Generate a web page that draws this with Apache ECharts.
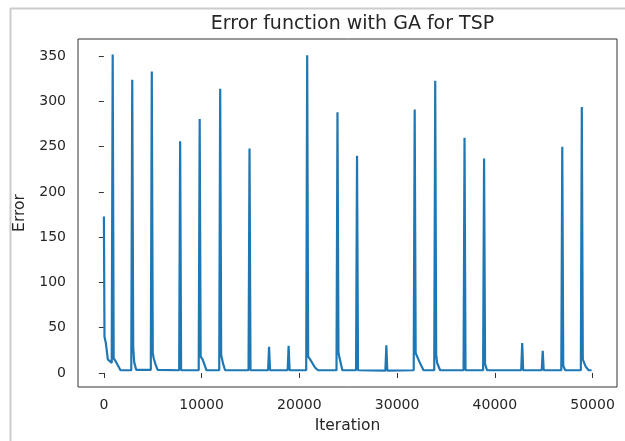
<!DOCTYPE html>
<html>
<head>
<meta charset="utf-8">
<script src="https://cdn.jsdelivr.net/npm/echarts@6/dist/echarts.min.js"></script>
<style>
html,body{margin:0;padding:0;background:#fff;}
#chart{width:625px;height:441px;}
</style>
</head>
<body>
<div id="chart"></div>
<script>
const titleText = "Error function with GA for TSP";
const xName = "Iteration";
const yName = "Error";
const xTicks = [0, 10000, 20000, 30000, 40000, 50000];
const yTicks = [0, 50, 100, 150, 200, 250, 300, 350];

const iterations = [
  0, 60, 200, 400, 600, 800, 900, 1000, 1200, 1700,
  2800, 2900, 3000, 3100, 3300,
  4800, 4900, 5000, 5100, 5300, 5500,
  7700, 7800, 7900,
  9700, 9800, 9900, 10100, 10500,
  11800, 11900, 12000, 12200, 12400,
  14800, 14900, 15000,
  16800, 16900, 17000,
  18800, 18900, 19000,
  20700, 20800, 20900, 21100, 21300, 21600, 21900,
  23800, 23900, 24000, 24100, 24400,
  25800, 25900, 26000,
  28800, 28900, 29000,
  31700, 31800, 31900, 32100, 32300, 32700,
  33800, 33900, 34000, 34100, 34400,
  36800, 36900, 37000,
  38800, 38900, 39000, 39200,
  42700, 42800, 42900,
  44800, 44900, 45000,
  46800, 46900, 47000, 47200,
  48800, 48900, 49000, 49300, 49600, 49900
];
const errors = [
  173, 40, 33, 15, 13, 11, 352, 16, 13, 3,
  3, 324, 28, 12, 3.5,
  3.5, 333, 22, 16, 9, 3.5,
  3, 256, 3,
  3, 280.5, 18, 15, 3,
  3, 314, 20, 10, 3,
  3, 248, 3,
  3, 29, 3,
  3, 30, 3,
  3, 351, 18, 15, 13, 6, 3,
  3, 288, 23, 17, 3,
  3, 240, 3,
  2.5, 30.5, 2.5,
  3, 291, 22, 17, 12, 3,
  3, 323, 20, 11, 3,
  3, 260, 3,
  3, 237, 10, 3,
  3, 33, 3,
  3, 24.6, 3,
  3, 250, 8, 3,
  3, 294, 15, 7, 3, 3
];

const FONT = "DejaVu Sans";
const TXT = "#262626";

const chart = echarts.init(document.getElementById('chart'), null, {renderer: 'canvas'});
chart.setOption({
  animation: false,
  backgroundColor: '#ffffff',
  title: {
    text: titleText,
    left: 347.5,
    top: 10,
    textAlign: 'center',
    textStyle: {fontFamily: FONT, fontSize: 19, fontWeight: 'normal', color: TXT}
  },
  graphic: [
    {type: 'line', shape: {x1: 10.5, y1: 8, x2: 10.5, y2: 441}, style: {stroke: '#cccccc', lineWidth: 2}},
    {type: 'line', shape: {x1: 10, y1: 8.5, x2: 625, y2: 8.5}, style: {stroke: '#cccccc', lineWidth: 2}}
  ],
  grid: {
    left: 78, right: 8, top: 39, bottom: 54,
    show: true, borderColor: '#333', borderWidth: 1, backgroundColor: 'transparent'
  },
  xAxis: {
    type: 'value',
    min: -2650, max: 52500,
    name: xName, nameLocation: 'middle', nameGap: 31,
    nameTextStyle: {fontFamily: FONT, fontSize: 15.5, color: TXT},
    axisLine: {show: false},
    axisTick: {show: true, length: 5, customValues: xTicks, lineStyle: {color: '#333', width: 1}},
    axisLabel: {customValues: xTicks, formatter: v => String(v), fontFamily: FONT, fontSize: 14, color: TXT, margin: 11},
    splitLine: {show: false}
  },
  yAxis: {
    type: 'value',
    min: -15.5, max: 369,
    name: yName, nameLocation: 'middle', nameGap: 50, nameRotate: 90,
    nameTextStyle: {fontFamily: FONT, fontSize: 15.5, color: TXT},
    axisLine: {show: false},
    axisTick: {show: true, length: 5, customValues: yTicks, lineStyle: {color: '#333', width: 1}},
    axisLabel: {customValues: yTicks, formatter: v => String(v), fontFamily: FONT, fontSize: 14, color: TXT, margin: 12},
    splitLine: {show: false}
  },
  series: [{
    type: 'line',
    data: iterations.map((x, i) => [x, errors[i]]),
    showSymbol: false,
    lineStyle: {color: '#1f77b4', width: 2.2},
    itemStyle: {color: '#1f77b4'}
  }]
});
</script>
</body>
</html>
